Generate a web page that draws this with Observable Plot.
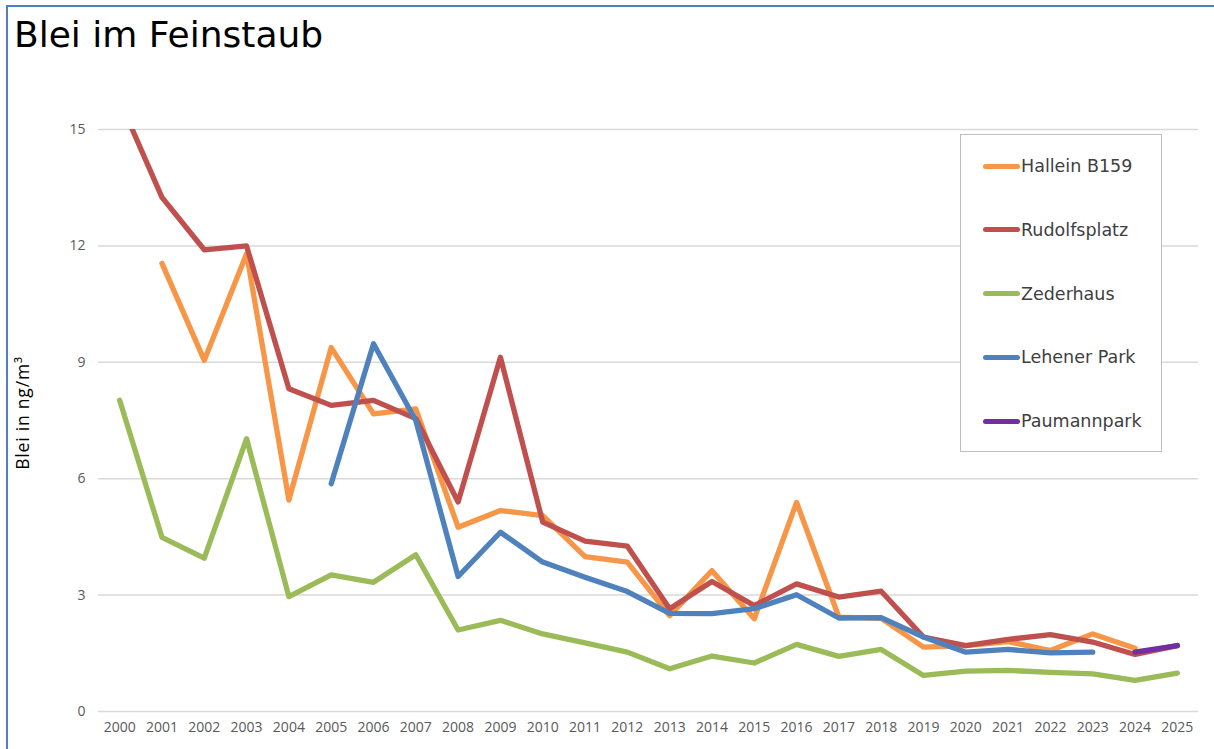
<!DOCTYPE html>
<html>
<head>
<meta charset="utf-8">
<script src="https://cdn.jsdelivr.net/npm/d3@7"></script>
<script src="https://cdn.jsdelivr.net/npm/@observablehq/plot@0.6"></script>
<style>
  html, body { margin: 0; padding: 0; background: #fff; }
  #wrap { position: relative; width: 1214px; height: 749px; overflow: hidden; background: #fff; }
  #frame { position: absolute; left: 6px; top: 5px; width: 1220px; height: 760px;
           border-top: 2px solid #4f81bd; border-left: 2px solid #4f81bd; box-sizing: border-box; }
  #title { position: absolute; left: 14px; top: 13px; font-family: "DejaVu Sans", sans-serif;
           font-size: 36px; line-height: 44px; color: #000; white-space: nowrap; }
  #ylabel { position: absolute; left: 22px; top: 413px; transform: translate(-50%, -50%) rotate(-90deg);
            font-family: "Open Sans", sans-serif; font-size: 17.5px; letter-spacing: 0.8px; color: #000; white-space: nowrap; }
  #legend { position: absolute; left: 960px; top: 134px; width: 202px; height: 318px;
            border: 1.5px solid #bfbfbf; box-sizing: border-box; background: #fff; }
  .item { position: absolute; left: 22px; height: 24px; display: flex; align-items: center;
          font-family: "DejaVu Sans", sans-serif; font-size: 17.5px; color: #404040; white-space: nowrap; }
  .sw { width: 37px; height: 5px; border-radius: 3px; margin-right: 1px; }
  svg { position: absolute; left: 0; top: 0; }
</style>
</head>
<body>
<div id="wrap">
  <div id="frame"></div>
  <div id="title">Blei im Feinstaub</div>
  <div id="ylabel">Blei in ng/m³</div>
</div>
<script>
const years = [2000,2001,2002,2003,2004,2005,2006,2007,2008,2009,2010,2011,2012,
               2013,2014,2015,2016,2017,2018,2019,2020,2021,2022,2023,2024,2025];
const seriesNames = ["Hallein B159","Rudolfsplatz","Zederhaus","Lehener Park","Paumannpark"];
const seriesColors = ["#f79646","#c0504d","#9bbb59","#4f81bd","#7030a0"];
const yTicks = [0,3,6,9,12,15];

const hallein = [null,11.55,9.05,11.8,5.45,9.38,7.67,7.8,4.75,5.18,5.05,3.99,3.85,
                 2.47,3.63,2.39,5.39,2.43,2.4,1.66,1.7,1.8,1.57,2.0,1.63,null];
const rudolfsplatz = [15.75,13.25,11.9,12.0,8.32,7.89,8.02,7.55,5.4,9.13,4.88,4.39,4.26,
                      2.65,3.35,2.73,3.29,2.95,3.1,1.92,1.7,1.86,1.98,1.79,1.47,1.7];
const zederhaus = [8.02,4.49,3.95,7.03,2.96,3.52,3.33,4.04,2.1,2.35,2.0,1.77,1.53,
                   1.1,1.43,1.25,1.73,1.42,1.6,0.93,1.04,1.06,1.01,0.97,0.8,0.99];
const lehener = [null,null,null,null,null,5.87,9.48,7.5,3.48,4.62,3.85,3.46,3.09,
                 2.53,2.52,2.65,3.01,2.41,2.42,1.92,1.53,1.6,1.51,1.53,null,null];
const paumann = [null,null,null,null,null,null,null,null,null,null,null,null,null,
                 null,null,null,null,null,null,null,null,null,null,null,1.53,1.7];

const allSeries = [hallein, rudolfsplatz, zederhaus, lehener, paumann];
const rows = [];
allSeries.forEach((vals, si) => {
  vals.forEach((v, i) => {
    if (v !== null) rows.push({year: years[i], value: v, series: seriesNames[si]});
  });
});

const chart = Plot.plot({
  width: 1214,
  height: 749,
  marginLeft: 98,
  marginRight: 16,
  marginTop: 129,
  marginBottom: 38,
  style: {fontFamily: "Open Sans, sans-serif", fontSize: "14px", color: "#595959", background: "transparent", overflow: "visible"},
  x: {type: "point", domain: years, padding: 0.5, round: false},
  y: {domain: [0, 15]},
  color: {domain: seriesNames, range: seriesColors},
  marks: [
    Plot.gridY(yTicks, {stroke: "#d9d9d9", strokeOpacity: 1, strokeWidth: 1.5}),
    Plot.axisY(yTicks, {tickSize: 0, tickPadding: 13, label: null, fill: "#595959"}),
    Plot.axisX(years, {tickSize: 0, tickPadding: 11, label: null, fill: "#595959", tickFormat: d => String(d)}),
    Plot.line(rows, {x: "year", y: "value", z: "series", stroke: "series", strokeWidth: 5.3,
                     strokeLinejoin: "round", strokeLinecap: "round", clip: true})
  ]
});
document.getElementById("wrap").insertBefore(chart, document.getElementById("title"));

const legend = document.createElement("div");
legend.id = "legend";
seriesNames.forEach((name, i) => {
  const item = document.createElement("div");
  item.className = "item";
  item.style.top = (165 - 134 - 12 + i * 63.8) + "px";
  const sw = document.createElement("div");
  sw.className = "sw";
  sw.style.background = seriesColors[i];
  const tx = document.createElement("span");
  tx.textContent = name;
  item.appendChild(sw);
  item.appendChild(tx);
  legend.appendChild(item);
});
document.getElementById("wrap").appendChild(legend);
</script>
</body>
</html>
